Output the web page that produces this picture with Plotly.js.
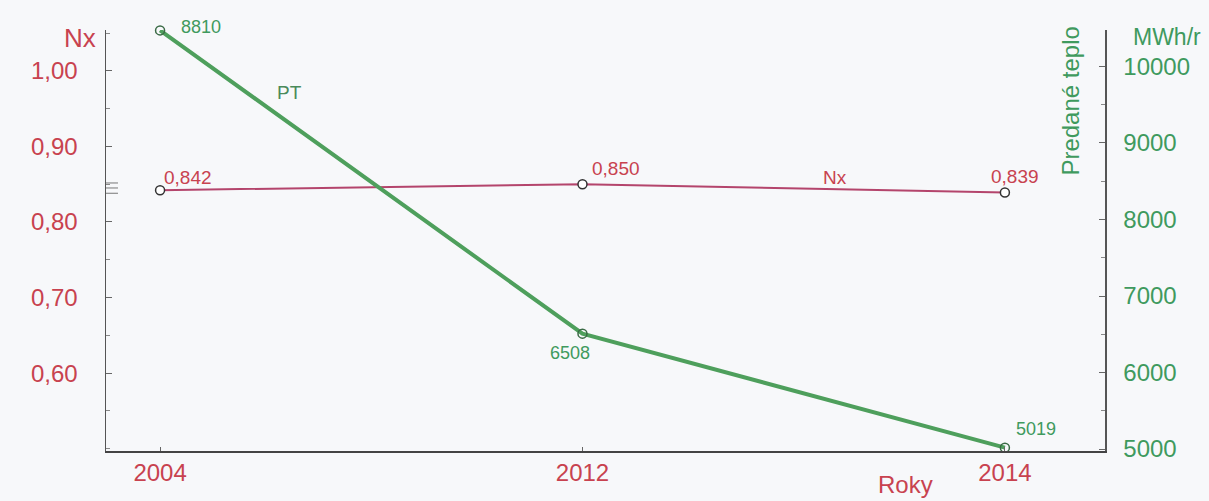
<!DOCTYPE html>
<html>
<head>
<meta charset="utf-8">
<script src="https://cdn.plot.ly/plotly-3.0.1.min.js"></script>
<style>html,body{margin:0;padding:0;background:#f7f8fa;}#chart{width:1209px;height:501px;}</style>
</head>
<body>
<div id="chart"></div>
<script>
// ---- data ----
const years = ['2004', '2012', '2014'];
const nxValues = [0.842, 0.850, 0.839];
// PT labels as printed in the chart
const ptLabels = ['8810', '6508', '5019'];
// PT positions as drawn against the right axis in the reference (the 2004 point is drawn at the top of the axis)
const ptPlotted = [10470, 6508, 5019];
const leftTicks = [0.60, 0.70, 0.80, 0.90, 1.00];
const rightTicks = [5000, 6000, 7000, 8000, 9000, 10000];

const RED = '#c8424f';
const GREEN = '#3f9a5e';
const NXLINE = '#b4456c';
const PTLINE = '#4e9f5c';
const FONT = 'Liberation Sans, Arial, sans-serif';

// label placement (pixel offsets from each point)
const nxLabelStyle = [
  {xanchor: 'left', xshift: 2, yshift: 13},
  {xanchor: 'left', xshift: 8, yshift: 16},
  {xanchor: 'left', xshift: -16, yshift: 16}
];
const ptLabelStyle = [
  {xanchor: 'left', xshift: 19, yshift: 3},
  {xanchor: 'center', xshift: -12, yshift: -19},
  {xanchor: 'left', xshift: 9, yshift: 19}
];

const traces = [
  {
    x: years, y: ptPlotted, yaxis: 'y2', type: 'scatter', mode: 'lines+markers',
    line: {color: PTLINE, width: 4},
    marker: {symbol: 'circle-open', size: 9, color: '#3a6a45', line: {width: 1.5, color: '#3a6a45'}},
    cliponaxis: false, hoverinfo: 'skip', showlegend: false
  },
  {
    x: years, y: nxValues, yaxis: 'y', type: 'scatter', mode: 'lines+markers',
    line: {color: NXLINE, width: 2},
    marker: {symbol: 'circle', size: 9, color: '#ffffff', line: {width: 1.5, color: '#333333'}},
    cliponaxis: false, hoverinfo: 'skip', showlegend: false
  }
];

// data labels: category axis -> position by category index
const dataLabels = [];
years.forEach((yr, i) => {
  dataLabels.push(Object.assign({
    text: nxValues[i].toFixed(3).replace('.', ','), x: i, y: nxValues[i], xref: 'x', yref: 'y',
    yanchor: 'middle', showarrow: false, font: {family: FONT, size: 19, color: RED}
  }, nxLabelStyle[i]));
  dataLabels.push(Object.assign({
    text: ptLabels[i], x: i, y: ptPlotted[i], xref: 'x', yref: 'y2',
    yanchor: 'middle', showarrow: false, font: {family: FONT, size: 18, color: GREEN}
  }, ptLabelStyle[i]));
});

const layout = {
  width: 1209, height: 501,
  margin: {l: 106, r: 104, t: 30, b: 50},
  paper_bgcolor: '#f7f8fa', plot_bgcolor: '#f7f8fa',
  separators: ', ',
  font: {family: FONT},
  xaxis: {
    type: 'category', range: [-0.128, 2.237],
    showgrid: false, zeroline: false,
    showline: true, linecolor: '#444', linewidth: 1.5,
    ticks: 'inside', ticklen: 4, tickcolor: '#666',
    tickfont: {family: FONT, size: 24, color: RED}
  },
  yaxis: {
    range: [0.497, 1.054], showgrid: false, zeroline: false,
    showline: true, linecolor: '#555', linewidth: 1.5,
    tickvals: leftTicks, tickformat: '.2f',
    ticks: 'inside', ticklen: 6, tickcolor: '#666',
    ticklabelstandoff: 22,
    minor: {dtick: 0.05, ticks: 'inside', ticklen: 4, tickcolor: '#888'},
    tickfont: {family: FONT, size: 24, color: RED}
  },
  yaxis2: {
    overlaying: 'y', side: 'right',
    range: [4975, 10475], showgrid: false, zeroline: false,
    showline: true, linecolor: '#555', linewidth: 1.5,
    tickvals: rightTicks, tickformat: 'd',
    ticks: 'inside', ticklen: 6, tickcolor: '#666',
    ticklabelstandoff: 12,
    minor: {dtick: 500, ticks: 'inside', ticklen: 4, tickcolor: '#888'},
    tickfont: {family: FONT, size: 24, color: GREEN}
  },
  // small triple mark on the left axis, as in the reference
  shapes: [0.8516, 0.845, 0.838].map(v => ({
    type: 'line', xref: 'paper', yref: 'y', x0: 0, x1: 0.012, y0: v, y1: v,
    line: {color: '#777', width: 1}
  })),
  annotations: [
    {text: 'Nx', xref: 'paper', yref: 'paper', x: -0.026, y: 1.0, xanchor: 'center', yanchor: 'middle', yshift: -8,
     showarrow: false, font: {family: FONT, size: 26, color: RED}},
    {text: 'MWh/r', xref: 'paper', yref: 'paper', x: 1.062, y: 1.0, xanchor: 'center', yanchor: 'middle', yshift: -7,
     showarrow: false, font: {family: FONT, size: 23, color: GREEN}},
    {text: 'Predané teplo', xref: 'paper', yref: 'paper', x: 0.966, y: 0.83, xanchor: 'center', yanchor: 'middle',
     textangle: -90, showarrow: false, font: {family: FONT, size: 24, color: GREEN}},
    {text: 'Roky', xref: 'paper', yref: 'paper', x: 0.8, y: -0.09, xanchor: 'center', yanchor: 'middle', yshift: 4,
     showarrow: false, font: {family: FONT, size: 24, color: RED}},
    {text: 'Nx', xref: 'paper', yref: 'paper', x: 0.73, y: 0.649, xanchor: 'center', yanchor: 'middle',
     showarrow: false, font: {family: FONT, size: 19, color: RED}},
    {text: 'PT', xref: 'paper', yref: 'paper', x: 0.184, y: 0.852, xanchor: 'center', yanchor: 'middle',
     showarrow: false, font: {family: FONT, size: 19, color: '#4a8a5a'}}
  ].concat(dataLabels)
};

Plotly.newPlot('chart', traces, layout, {displayModeBar: false, staticPlot: true});
</script>
</body>
</html>
